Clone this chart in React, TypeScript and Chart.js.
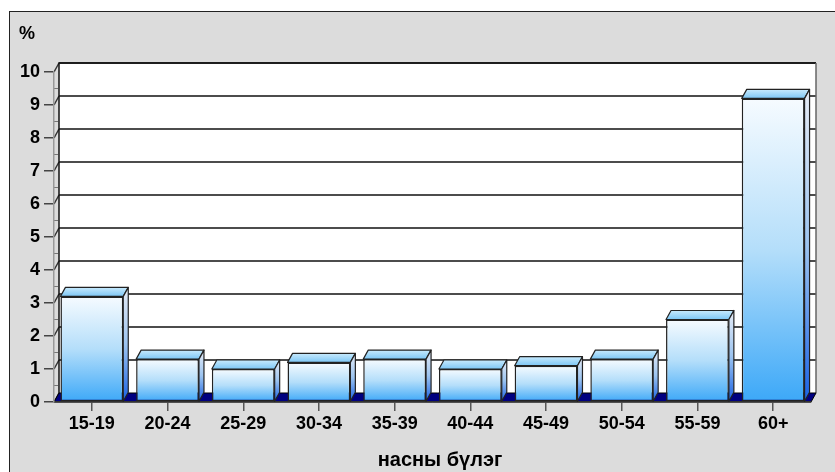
import React, { useEffect, useRef } from "react";
import { Chart, registerables } from "chart.js";

Chart.register(...registerables);

const categories = ["15-19", "20-24", "25-29", "30-34", "35-39", "40-44", "45-49", "50-54", "55-59", "60+"];
const values = [3.2, 1.3, 1.0, 1.2, 1.3, 1.0, 1.1, 1.3, 2.5, 9.2];
const yMin = 0;
const yMax = 10;
const yStep = 1;
const yUnit = "%";
const xTitle = "насны бүлэг";

const DX = 5;
const DY = 9;
const FONT = "'Liberation Sans', Arial, sans-serif";

const scenePlugin = {
  id: "scene3d",
  beforeDraw(chart: any) {
    const { ctx, chartArea, scales } = chart;
    const W = chart.width;
    const H = chart.height;
    const { left, right, top, bottom } = chartArea;
    const y = scales.y;
    ctx.save();
    ctx.fillStyle = "#ffffff";
    ctx.fillRect(0, 0, W, H);
    ctx.fillStyle = "#dcdcdc";
    ctx.fillRect(9, 11, W, H);
    ctx.strokeStyle = "#222";
    ctx.lineWidth = 1;
    ctx.strokeRect(9.5, 11.5, W + 10, H + 10);

    ctx.fillStyle = "#000";
    ctx.font = `bold 18px ${FONT}`;
    ctx.textAlign = "left";
    ctx.textBaseline = "alphabetic";
    ctx.fillText(yUnit, 19, 39);

    const wl = left + DX;
    const wr = right + DX;
    const wt = top - DY;
    const wb = bottom - DY;
    ctx.fillStyle = "#ffffff";
    ctx.fillRect(wl, wt, wr - wl, wb - wt);

    ctx.lineWidth = 1.5;
    for (let v = yMin; v <= yMax; v += yStep) {
      const py = y.getPixelForValue(v);
      if (v > yMin) {
        ctx.strokeStyle = "#111";
        ctx.beginPath();
        ctx.moveTo(wl, py - DY);
        ctx.lineTo(wr, py - DY);
        ctx.stroke();
      }
      ctx.strokeStyle = "#333";
      ctx.beginPath();
      ctx.moveTo(left, py);
      ctx.lineTo(left + DX, py - DY);
      ctx.stroke();
      if (v < yMax) {
        const pm = y.getPixelForValue(v + yStep / 2);
        ctx.strokeStyle = "#777";
        ctx.lineWidth = 1;
        ctx.beginPath();
        ctx.moveTo(left, pm);
        ctx.lineTo(left + DX - 1, pm);
        ctx.stroke();
        ctx.lineWidth = 1.5;
      }
    }
    ctx.strokeStyle = "#111";
    ctx.beginPath();
    ctx.moveTo(wl, wb);
    ctx.lineTo(wl, wt);
    ctx.lineTo(wr, wt);
    ctx.stroke();
    ctx.strokeStyle = "#666";
    ctx.beginPath();
    ctx.moveTo(wr, wt);
    ctx.lineTo(wr, wb);
    ctx.stroke();

    ctx.fillStyle = "#000080";
    ctx.strokeStyle = "#000";
    ctx.lineWidth = 1;
    ctx.beginPath();
    ctx.moveTo(left, bottom);
    ctx.lineTo(right, bottom);
    ctx.lineTo(wr, wb);
    ctx.lineTo(wl, wb);
    ctx.closePath();
    ctx.fill();
    ctx.stroke();
    ctx.restore();
  },
  afterDatasetsDraw(chart: any) {
    const { ctx } = chart;
    const meta = chart.getDatasetMeta(0);
    ctx.save();
    ctx.lineWidth = 1.2;
    ctx.strokeStyle = "#222";
    ctx.lineJoin = "round";
    meta.data.forEach((bar: any) => {
      const { x, y, base, width } = bar.getProps(["x", "y", "base", "width"], true);
      if (![x, y, base, width].every((n) => Number.isFinite(n))) return;
      const xl = x - width / 2;
      const xr = x + width / 2;
      const gTop = ctx.createLinearGradient(0, y - DY, 0, y);
      gTop.addColorStop(0, "#c8eafd");
      gTop.addColorStop(1, "#7cc6f5");
      ctx.fillStyle = gTop;
      ctx.beginPath();
      ctx.moveTo(xl, y);
      ctx.lineTo(xl + DX, y - DY);
      ctx.lineTo(xr + DX, y - DY);
      ctx.lineTo(xr, y);
      ctx.closePath();
      ctx.fill();
      ctx.stroke();
      const gSide = ctx.createLinearGradient(0, y - DY, 0, base);
      gSide.addColorStop(0, "#e6ecf6");
      gSide.addColorStop(0.5, "#9cc4f0");
      gSide.addColorStop(1, "#1a62e4");
      ctx.fillStyle = gSide;
      ctx.beginPath();
      ctx.moveTo(xr, y);
      ctx.lineTo(xr + DX, y - DY);
      ctx.lineTo(xr + DX, base - DY);
      ctx.lineTo(xr, base);
      ctx.closePath();
      ctx.fill();
      ctx.stroke();
    });
    ctx.restore();
  },
  afterDraw(chart: any) {
    const { ctx } = chart;
    ctx.save();
    ctx.fillStyle = "#000";
    ctx.font = `bold 20px ${FONT}`;
    ctx.textAlign = "center";
    ctx.textBaseline = "alphabetic";
    ctx.fillText(xTitle, 440, 466);
    ctx.restore();
  },
};

export default function App() {
  const ref = useRef<HTMLCanvasElement | null>(null);
  useEffect(() => {
    if (!ref.current) return;
    const chart = new Chart(ref.current, {
      type: "bar",
      data: {
        labels: categories,
        datasets: [
          {
            data: values,
            backgroundColor: (c: any) => {
              const ch = c.chart;
              const ys = ch.scales && ch.scales.y;
              if (!ys || typeof c.raw !== "number") return "#9cd2fa";
              const top = ys.getPixelForValue(c.raw);
              const base = ys.getPixelForValue(0);
              if (!Number.isFinite(top) || !Number.isFinite(base) || top === base) return "#9cd2fa";
              const g = ch.ctx.createLinearGradient(0, top, 0, base);
              g.addColorStop(0, "#f6fbff");
              g.addColorStop(0.5, "#b4defa");
              g.addColorStop(1, "#3ca8f8");
              return g;
            },
            borderColor: "#222",
            borderWidth: 1.5,
            borderSkipped: false,
            categoryPercentage: 1,
            barPercentage: 0.83,
          },
        ],
      },
      options: {
        responsive: false,
        animation: false,
        devicePixelRatio: 1,
        layout: { padding: { top: 72, right: 24, left: 0, bottom: 0 } },
        plugins: { legend: { display: false }, tooltip: { enabled: false }, title: { display: false } },
        scales: {
          x: {
            type: "category",
            offset: true,
            grid: { display: true, drawOnChartArea: false, drawTicks: true, tickLength: 9, color: "#555", lineWidth: 1.5, offset: false },
            border: { display: true, color: "#333", width: 1.5 },
            ticks: { color: "#000", font: { family: FONT, size: 18, weight: "bold" }, padding: 2, maxRotation: 0, autoSkip: false },
            afterFit: (s: any) => { s.height = 70; },
          },
          y: {
            min: yMin,
            max: yMax,
            grid: { display: true, drawOnChartArea: false, drawTicks: true, tickLength: 10, color: "#444", lineWidth: 1.5 },
            border: { display: true, color: "#999", width: 1.5 },
            ticks: { stepSize: yStep, color: "#000", font: { family: FONT, size: 18, weight: "bold" }, padding: 4 },
            afterFit: (s: any) => { s.width = 54; },
          },
        },
      },
      plugins: [scenePlugin],
    } as any);
    return () => chart.destroy();
  }, []);
  return (
    <div style={{ position: "fixed", left: 0, top: 0, width: 835, height: 472, background: "#fff" }}>
      <canvas ref={ref} width={835} height={472} style={{ display: "block", width: 835, height: 472 }} />
    </div>
  );
}
